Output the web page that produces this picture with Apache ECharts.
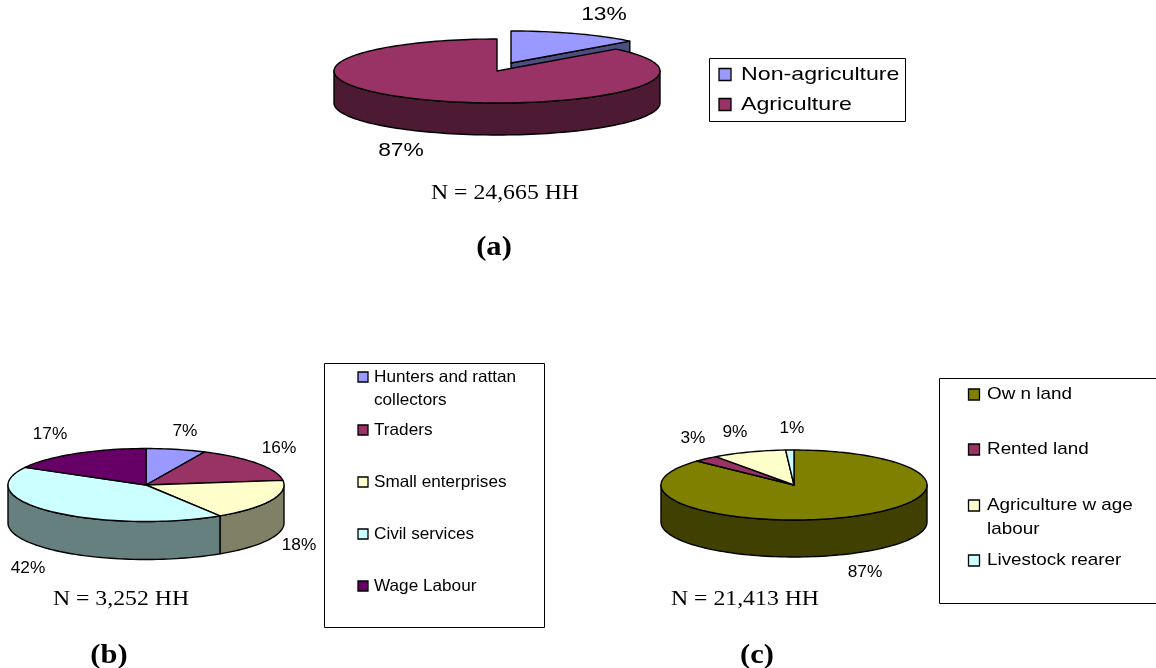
<!DOCTYPE html>
<html>
<head>
<meta charset="utf-8">
<style>html,body{margin:0;padding:0;background:#fff}#chart{width:1156px;height:668px}</style>
<script src="https://cdn.jsdelivr.net/npm/echarts@6/dist/echarts.min.js"></script>
</head>
<body>
<div id="chart"></div>
<script>
// Household livelihood shares, percent of households
const namesA = ['Non-agriculture', 'Agriculture'];
const valuesA = [13, 87];
const namesB = ['Hunters and rattan\ncollectors', 'Traders', 'Small enterprises', 'Civil services', 'Wage Labour'];
const valuesB = [7, 16, 18, 42, 17];
const namesC = ['Ow n land', 'Rented land', 'Agriculture w age\nlabour', 'Livestock rearer'];
const valuesC = [87, 3, 9, 1];

const captionA = 'N = 24,665 HH';
const captionB = 'N = 3,252 HH';
const captionC = 'N = 21,413 HH';

// Face colour of each slice and the darker wall colour under it
const facesA = ['#9999ff', '#993366'];
const wallsA = ['#4d4d80', '#4d1a33'];
const facesB = ['#9999ff', '#993366', '#ffffcc', '#ccffff', '#660066'];
const wallsB = ['#4d4d80', '#4d1a33', '#808066', '#668080', '#330033'];
const facesC = ['#808000', '#993366', '#ffffcc', '#ccffff'];
const wallsC = ['#404000', '#4d1a33', '#808066', '#668080'];

const SANS = '"Liberation Sans", Arial, sans-serif';
const SERIF = '"Liberation Serif", "Times New Roman", serif';

// Ellipse geometry of each tilted pie plus where its percent labels sit
const pies = [
  { values: valuesA, faces: facesA, walls: wallsA, cx: 497, cy: 71, rx: 163, ry: 32, depth: 32,
    explode: [[14, -8], [0, 0]], labelAt: [[604, 15], [401, 151]], labelSize: 19, labelStretch: 1.2 },
  { values: valuesB, faces: facesB, walls: wallsB, cx: 146, cy: 485, rx: 138, ry: 36.5, depth: 38,
    labelAt: [[185, 432], [279, 449], [299, 546], [28, 569], [50, 435]], labelSize: 16, labelStretch: 1.08 },
  { values: valuesC, faces: facesC, walls: wallsC, cx: 794, cy: 485, rx: 133, ry: 35, depth: 37,
    labelAt: [[865, 573], [693, 439], [735, 433], [792, 429]], labelSize: 16, labelStretch: 1.08 }
];

function rimPoint(p, deg, ox, oy) {
  const t = deg * Math.PI / 180;
  return [p.cx + ox + p.rx * Math.sin(t), p.cy + oy - p.ry * Math.cos(t)];
}

function arcPoints(p, from, to, ox, oy, drop) {
  const out = [];
  const steps = Math.max(2, Math.ceil(Math.abs(to - from) / 2));
  for (let i = 0; i <= steps; i++) {
    out.push(rimPoint(p, from + (to - from) * i / steps, ox, oy + drop));
  }
  return out;
}

const edge = { stroke: '#000', lineWidth: 1.4, lineJoin: 'round' };

// One slice: top face, the outer wall on the front half, and any exposed cut face
function renderSlice(pie, params, api) {
  const idx = params.dataIndex;
  const total = pie.values.reduce((s, v) => s + v, 0);
  let before = 0;
  for (let i = 0; i < idx; i++) before += pie.values[i];
  const from = before / total * 360;
  const to = (before + api.value(0)) / total * 360;
  const [ox, oy] = pie.explode ? pie.explode[idx] : [0, 0];
  const children = [];

  const apex = [pie.cx + ox, pie.cy + oy];
  const wallFrom = Math.max(from, 90);
  const wallTo = Math.min(to, 270);
  if (wallTo > wallFrom) {
    const upper = arcPoints(pie, wallFrom, wallTo, ox, oy, 0);
    const lower = arcPoints(pie, wallFrom, wallTo, ox, oy, pie.depth).reverse();
    children.push({
      type: 'polygon', z2: 1,
      shape: { points: upper.concat(lower) },
      style: Object.assign({ fill: pie.walls[idx] }, edge)
    });
  }
  if (pie.explode && (ox || oy) && to < 90) {
    const rim = rimPoint(pie, to, ox, oy);
    children.push({
      type: 'polygon', z2: 1,
      shape: { points: [apex, rim, [rim[0], rim[1] + pie.depth], [apex[0], apex[1] + pie.depth]] },
      style: Object.assign({ fill: pie.walls[idx] }, edge)
    });
  }
  children.push({
    type: 'polygon', z2: 3,
    shape: { points: [apex].concat(arcPoints(pie, from, to, ox, oy, 0)) },
    style: Object.assign({ fill: pie.faces[idx] }, edge)
  });
  const at = pie.labelAt[idx];
  children.push({
    type: 'text', z2: 5, x: at[0], y: at[1], scaleX: pie.labelStretch,
    style: {
      text: api.value(0) + '%', fill: '#000', align: 'center', verticalAlign: 'middle',
      font: pie.labelSize + 'px ' + SANS
    }
  });
  return { type: 'group', children };
}

// Legend frames with a swatch and text per row
function legendGraphics(frame, names, faces, rows) {
  const items = [{
    type: 'rect', shape: { x: frame.x, y: frame.y, width: frame.w, height: frame.h },
    style: { fill: '#fff', stroke: '#000', lineWidth: 1 }
  }];
  names.forEach((name, i) => {
    const y = rows[i];
    items.push({
      type: 'rect',
      shape: { x: frame.swatchX - frame.swatch / 2, y: y - frame.swatch / 2, width: frame.swatch, height: frame.swatch },
      style: { fill: faces[i], stroke: '#000', lineWidth: 1.3 }
    });
    name.split('\n').forEach((line, k) => {
      items.push({
        type: 'text', x: frame.textX, y: y + k * frame.lineGap, scaleX: frame.stretch,
        style: { text: line, fill: '#000', align: 'left', verticalAlign: 'middle', font: frame.size + 'px ' + SANS }
      });
    });
  });
  return items;
}

function caption(text, x, y, size, stretch, bold) {
  return {
    type: 'text', x, y, scaleX: stretch,
    style: { text, fill: '#000', align: 'center', verticalAlign: 'middle',
      font: (bold ? 'bold ' : '') + size + 'px ' + SERIF }
  };
}

const elements = [].concat(
  legendGraphics({ x: 709.5, y: 58.5, w: 196, h: 63, swatchX: 725, swatch: 12, textX: 741, lineGap: 0, size: 19, stretch: 1.22 },
    namesA, facesA, [74.5, 104.5]),
  legendGraphics({ x: 324.5, y: 363.5, w: 220, h: 264, swatchX: 363, swatch: 10, textX: 374, lineGap: 23, size: 16.5, stretch: 1.04 },
    namesB, facesB, [377, 430, 482, 534, 586]),
  legendGraphics({ x: 939.5, y: 378.5, w: 230, h: 225, swatchX: 974, swatch: 11, textX: 987, lineGap: 24, size: 17, stretch: 1.11 },
    namesC, facesC, [394.5, 449.5, 505.5, 560.5]),
  [
    caption(captionA, 505, 193, 22, 1.08),
    caption(captionB, 121, 599, 22, 1.08),
    caption(captionC, 745, 599, 22, 1.08),
    caption('(a)', 494, 248, 27, 1.13, true),
    caption('(b)', 109, 656, 27, 1.13, true),
    caption('(c)', 757, 656, 27, 1.13, true)
  ]
);

const chart = echarts.init(document.getElementById('chart'), null, { renderer: 'canvas' });
chart.setOption({
  animation: false,
  backgroundColor: '#fff',
  graphic: { elements },
  series: pies.map(pie => ({
    type: 'custom',
    coordinateSystem: 'none',
    silent: true,
    data: pie.values.map(v => [v]),
    renderItem: (params, api) => renderSlice(pie, params, api)
  }))
});
</script>
</body>
</html>
